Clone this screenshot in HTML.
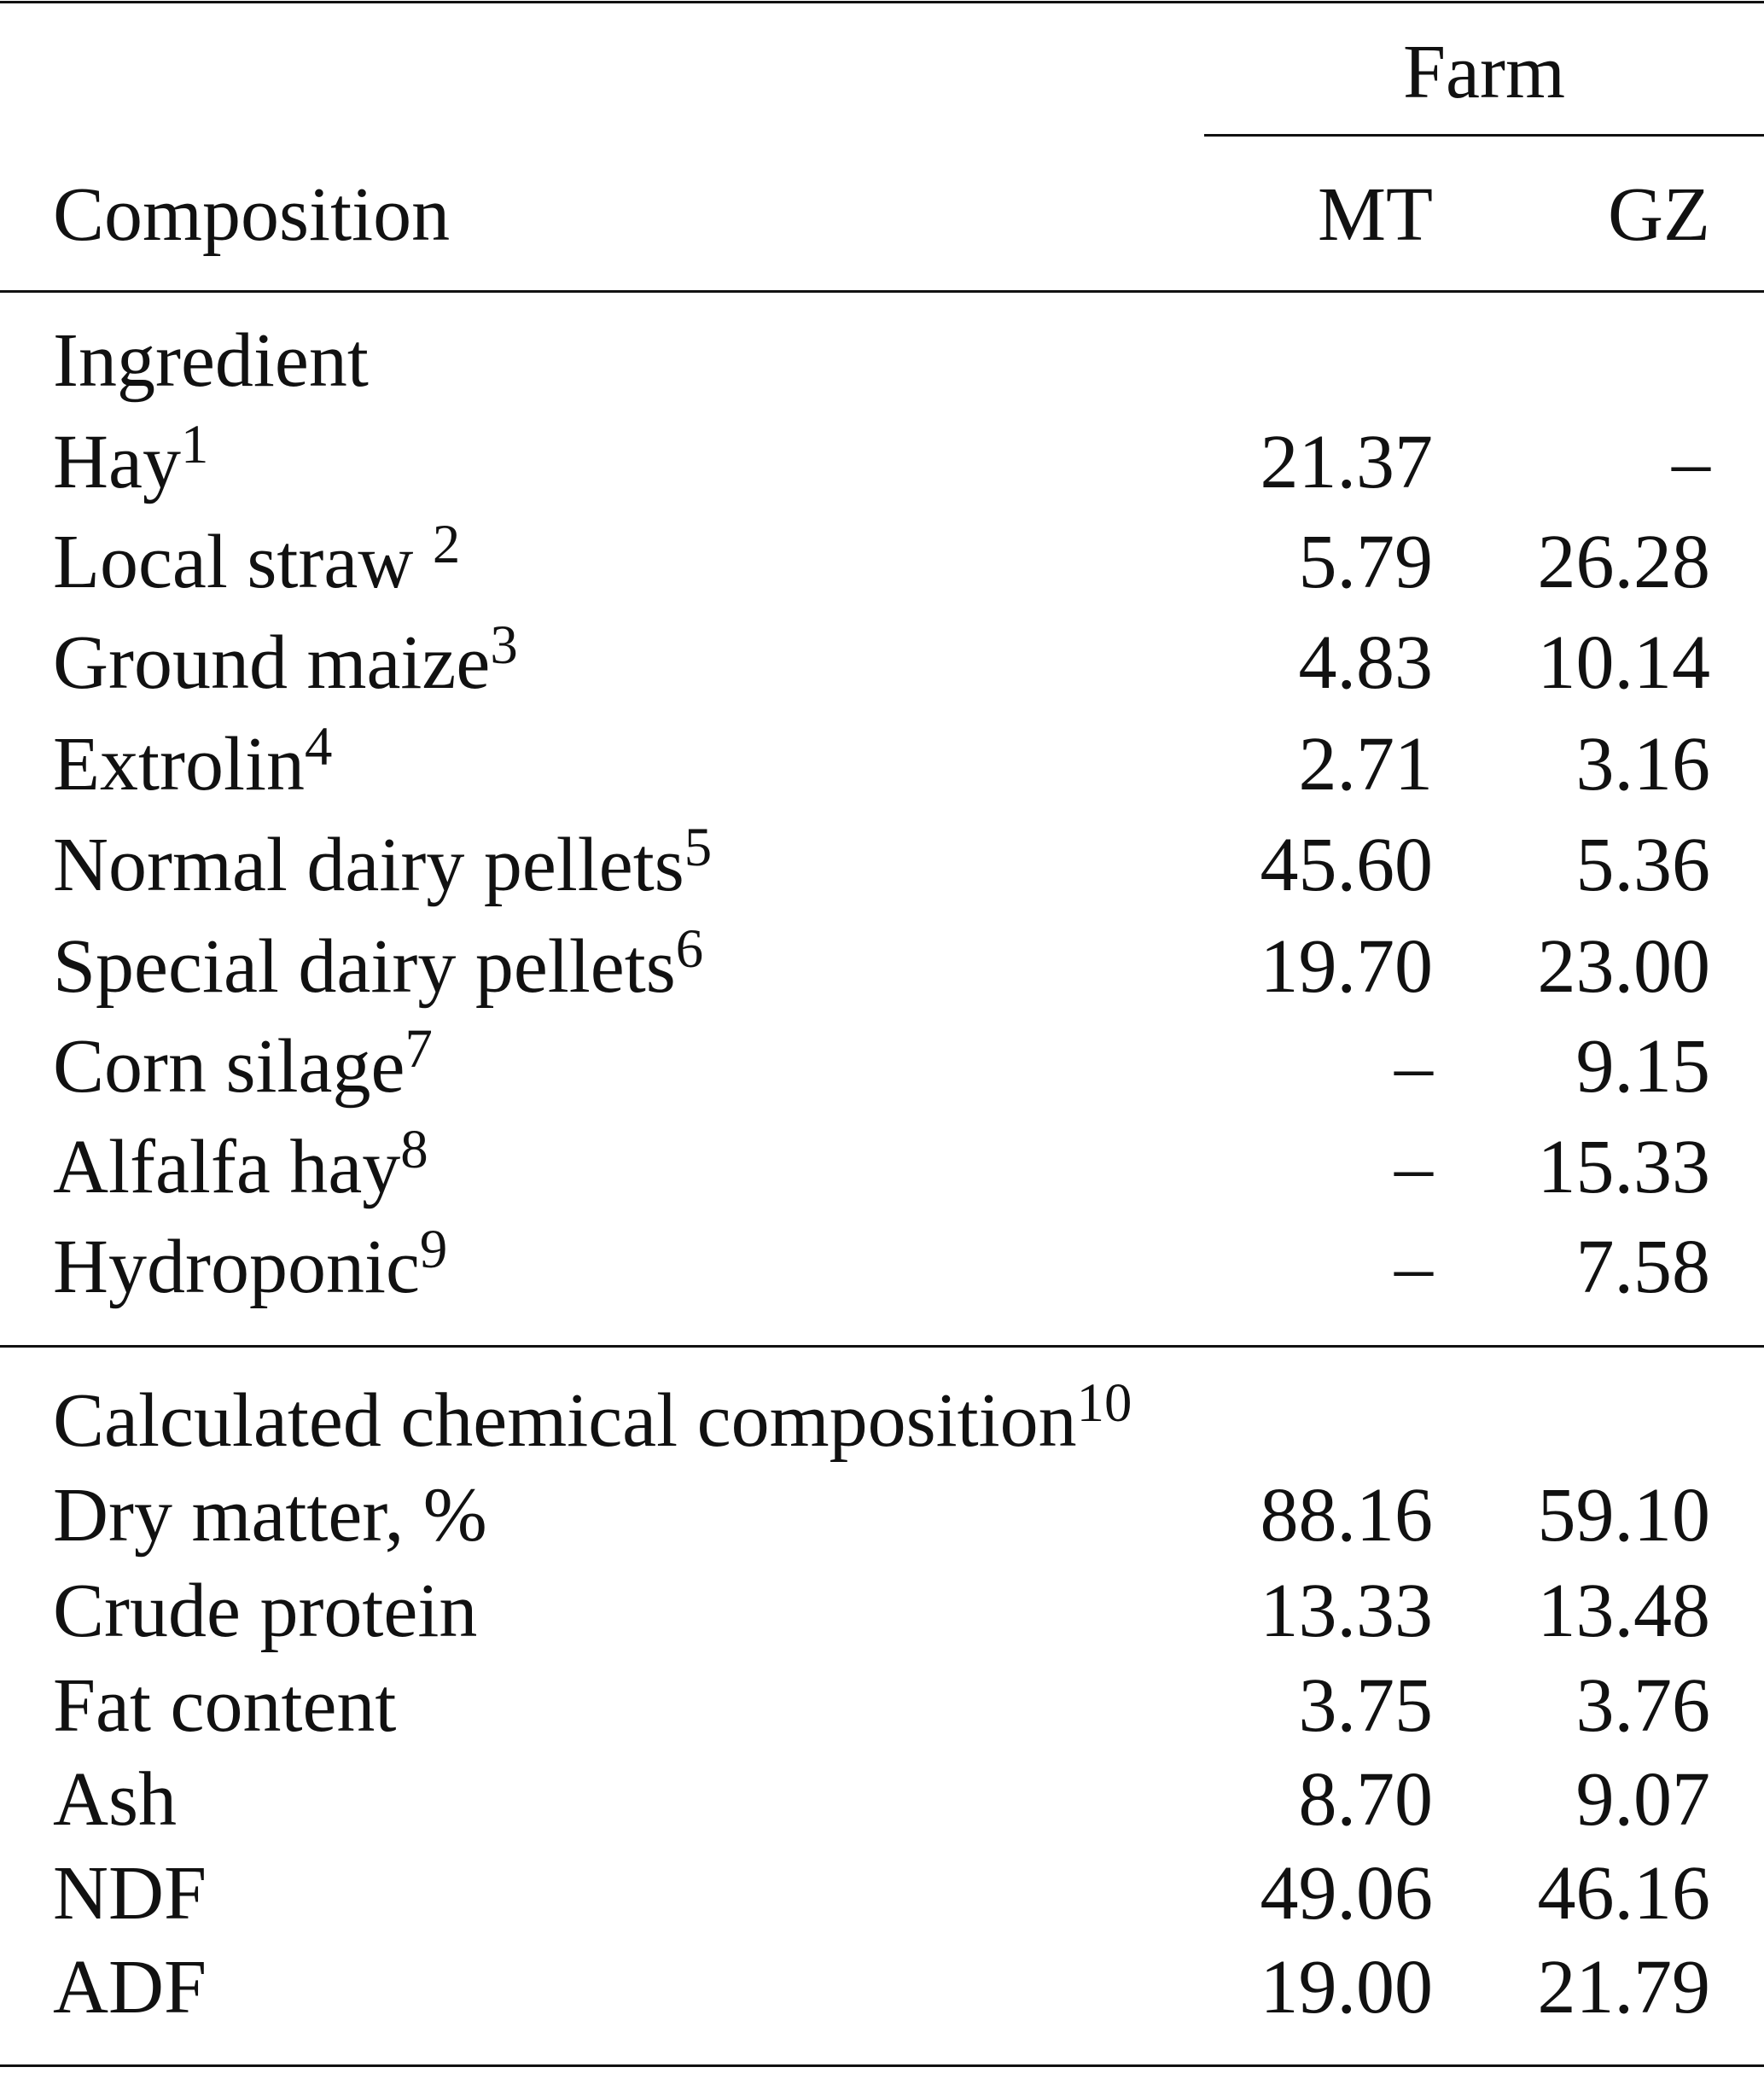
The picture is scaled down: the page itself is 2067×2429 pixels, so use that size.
<!DOCTYPE html>
<html><head><meta charset="utf-8"><style>
body{margin:0;background:#fff;width:2067px;height:2429px;position:relative;overflow:hidden;font-family:"Liberation Serif",serif;font-size:90px;color:#111}
.t{position:absolute;line-height:90px;white-space:nowrap;margin-top:4px}
.l{left:62px}
.m{right:388px;text-align:right}
.g{right:63px;text-align:right}
sup{font-size:0.72em;vertical-align:0.45em;line-height:0}
.r{position:absolute;background:#111;height:3px}
</style></head><body>
<div class="r" style="left:0;width:2067px;top:1px"></div>
<div class="t" style="left:1644px;top:36px">Farm</div>
<div class="r" style="left:1411px;width:656px;top:157px"></div>
<div class="t l" style="top:203px">Composition</div>
<div class="t m" style="top:203px">MT</div>
<div class="t g" style="top:203px">GZ</div>
<div class="r" style="left:0;width:2067px;top:340px"></div>

<div class="t l" style="top:374px">Ingredient</div>
<div class="t l" style="top:493px">Hay<sup>1</sup></div><div class="t m" style="top:493px">21.37</div><div class="t g" style="top:493px">–</div>
<div class="t l" style="top:610px">Local straw <sup>2</sup></div><div class="t m" style="top:610px">5.79</div><div class="t g" style="top:610px">26.28</div>
<div class="t l" style="top:728px">Ground maize<sup>3</sup></div><div class="t m" style="top:728px">4.83</div><div class="t g" style="top:728px">10.14</div>
<div class="t l" style="top:847px">Extrolin<sup>4</sup></div><div class="t m" style="top:847px">2.71</div><div class="t g" style="top:847px">3.16</div>
<div class="t l" style="top:965px">Normal dairy pellets<sup>5</sup></div><div class="t m" style="top:965px">45.60</div><div class="t g" style="top:965px">5.36</div>
<div class="t l" style="top:1084px">Special dairy pellets<sup>6</sup></div><div class="t m" style="top:1084px">19.70</div><div class="t g" style="top:1084px">23.00</div>
<div class="t l" style="top:1201px">Corn silage<sup>7</sup></div><div class="t m" style="top:1201px">–</div><div class="t g" style="top:1201px">9.15</div>
<div class="t l" style="top:1319px">Alfalfa hay<sup>8</sup></div><div class="t m" style="top:1319px">–</div><div class="t g" style="top:1319px">15.33</div>
<div class="t l" style="top:1436px">Hydroponic<sup>9</sup></div><div class="t m" style="top:1436px">–</div><div class="t g" style="top:1436px">7.58</div>
<div class="r" style="left:0;width:2067px;top:1576px"></div>

<div class="t l" style="top:1616px">Calculated chemical composition<sup>10</sup></div>
<div class="t l" style="top:1727px">Dry matter, %</div><div class="t m" style="top:1727px">88.16</div><div class="t g" style="top:1727px">59.10</div>
<div class="t l" style="top:1839px">Crude protein</div><div class="t m" style="top:1839px">13.33</div><div class="t g" style="top:1839px">13.48</div>
<div class="t l" style="top:1950px">Fat content</div><div class="t m" style="top:1950px">3.75</div><div class="t g" style="top:1950px">3.76</div>
<div class="t l" style="top:2060px">Ash</div><div class="t m" style="top:2060px">8.70</div><div class="t g" style="top:2060px">9.07</div>
<div class="t l" style="top:2170px">NDF</div><div class="t m" style="top:2170px">49.06</div><div class="t g" style="top:2170px">46.16</div>
<div class="t l" style="top:2280px">ADF</div><div class="t m" style="top:2280px">19.00</div><div class="t g" style="top:2280px">21.79</div>
<div class="r" style="left:0;width:2067px;top:2419px"></div>
</body></html>
